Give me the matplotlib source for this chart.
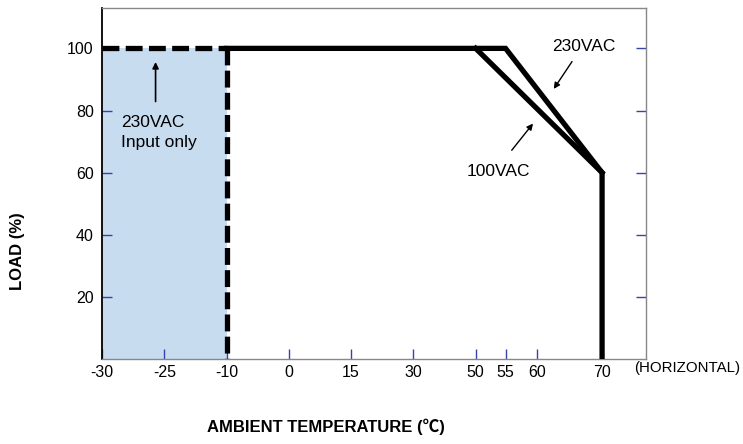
import numpy as np
import matplotlib
matplotlib.use("Agg")
import matplotlib.pyplot as plt

plt.rcParams['font.family'] = ['Liberation Sans', 'DejaVu Sans']

# tick temperatures and where they sit along the (uneven) x axis
tick_temps = [-30, -25, -10, 0, 15, 30, 50, 55, 60, 70]
tick_pos = [0, 1, 2, 3, 4, 5, 6, 6.48, 6.99, 8.03]
scale_temps = tick_temps + [80]
scale_pos = tick_pos + [9.03]

load_ticks = [20, 40, 60, 80, 100]

# derating curves (temperature, load %)
input_only_t = [-30, -10]
input_only_load = [100, 100]
input_only_edge_t = [-10, -10]
input_only_edge_load = [100, 0]
vac230_t = [-10, 55, 70, 70]
vac230_load = [100, 100, 60, 0]
vac100_t = [50, 70]
vac100_load = [100, 60]


def fwd(x):
    return np.interp(x, scale_temps, scale_pos)


def inv(x):
    return np.interp(x, scale_pos, scale_temps)


fig = plt.figure(figsize=(7.43, 4.44), dpi=100)
ax = fig.add_axes([0.1373, 0.1914, 0.7317, 0.7906])
ax.set_xscale('function', functions=(fwd, inv))
ax.set_xlim(-30, 77)
ax.set_ylim(0, 113)

# shaded area for 230VAC-only range
ax.fill_between(input_only_t, 0, input_only_load, color='#c8dcf0', lw=0, zorder=1)

ax.plot(input_only_t, input_only_load, color='black', lw=3.8,
        linestyle=(0, (3.2, 1.2)), zorder=3)
ax.plot(input_only_edge_t, input_only_edge_load, color='black', lw=3.8,
        linestyle=(0, (3.2, 1.0)), zorder=3)
ax.plot(vac230_t, vac230_load, color='black', lw=3.8, solid_joinstyle='miter', zorder=4)
ax.plot(vac100_t, vac100_load, color='black', lw=3.8, solid_joinstyle='miter', zorder=4)

# annotations
ax.annotate('', xy=(-25.7, 96.5), xytext=(-25.7, 82),
            arrowprops=dict(arrowstyle='-|>', color='black', lw=1.2, mutation_scale=9))
ax.text(-28.5, 78.5, '230VAC\nInput only', ha='left', va='top', fontsize=12.5,
        linespacing=1.4)

ax.annotate('', xy=(62.3, 86.2), xytext=(65.6, 96.5),
            arrowprops=dict(arrowstyle='-|>', color='black', lw=1.0, mutation_scale=9))
ax.text(67.2, 100.7, '230VAC', ha='center', va='center', fontsize=12.5)

ax.annotate('', xy=(59.6, 76.5), xytext=(55.7, 66.5),
            arrowprops=dict(arrowstyle='-|>', color='black', lw=1.0, mutation_scale=9))
ax.text(53.8, 60.4, '100VAC', ha='center', va='center', fontsize=12.5)

# axes styling
ax.set_xticks(tick_temps)
ax.set_xticklabels([str(t) for t in tick_temps])
ax.set_yticks(load_ticks)
ax.set_yticklabels([str(v) for v in load_ticks])
ax.tick_params(axis='both', direction='in', length=7, width=1, color='#3344aa',
               labelsize=11.5, pad=6)
ax.tick_params(axis='y', right=True, left=True)
ax.tick_params(axis='x', pad=4)

for side in ['top', 'right', 'bottom']:
    ax.spines[side].set_color('#888888')
    ax.spines[side].set_linewidth(1.0)
ax.spines['left'].set_color('black')
ax.spines['left'].set_linewidth(1.3)

fig.text(0.853, 0.172, '(HORIZONTAL)', ha='left', va='center', fontsize=10.8)
fig.text(0.439, 0.038, 'AMBIENT TEMPERATURE (℃)', ha='center', va='center',
         fontsize=12, fontweight='bold',
         family=['Liberation Sans', 'Noto Sans CJK SC', 'DejaVu Sans'])
fig.text(0.024, 0.435, 'LOAD (%)', ha='center', va='center', rotation=90,
         fontsize=12, fontweight='bold')

fig.savefig('out.png', dpi=100)
